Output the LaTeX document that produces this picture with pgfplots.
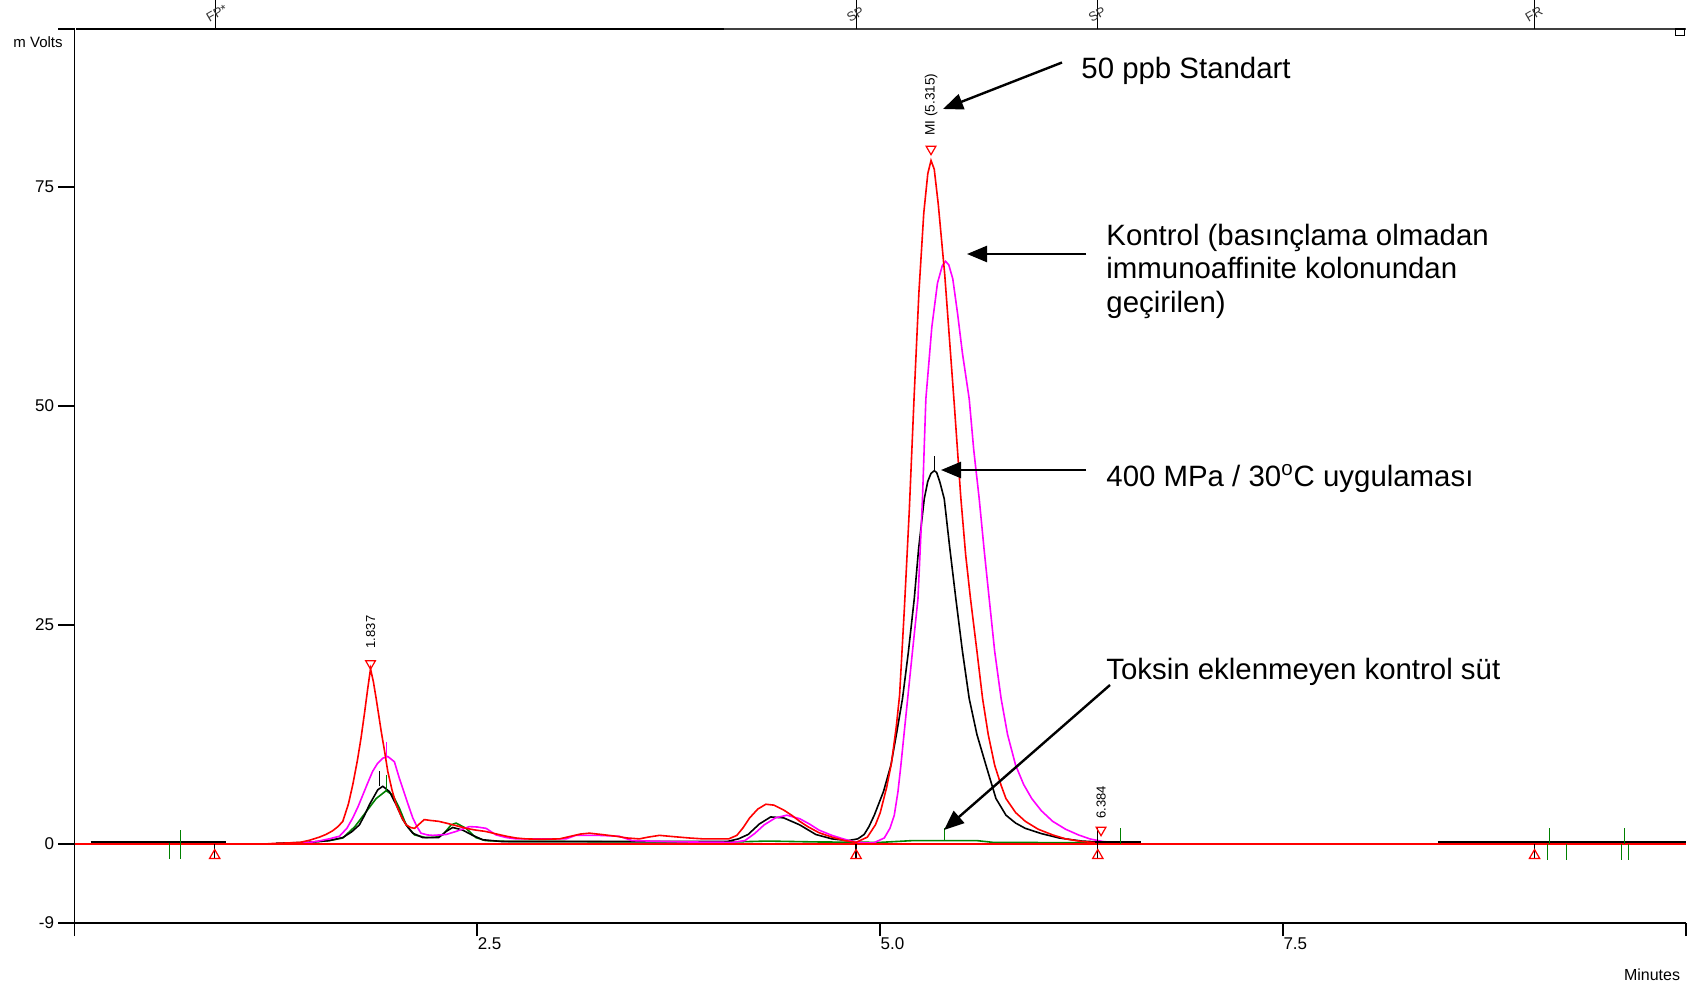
\documentclass[border=0pt]{standalone}
\usepackage{fontspec}
\setmainfont{Liberation Sans}
\usepackage{pgfplots}
\pgfplotsset{compat=1.18}
\usetikzlibrary{arrows.meta}
\definecolor{trgreen}{RGB}{0,128,0}
\definecolor{trmag}{RGB}{255,0,255}
\definecolor{trred}{RGB}{255,0,0}

\begin{document}
\begin{tikzpicture}
\begin{axis}[
    at={(37.25pt,32pt)}, anchor=south west,
    scale only axis, width=805.75pt, height=447pt,
    xmin=0, xmax=10, ymin=-9, ymax=93,
    axis x line*=bottom, axis y line*=left,
    axis line style={line width=0.9pt, -},
    tick align=outside,
    xtick={0,2.5,5,7.5,10}, xticklabels={,2.5,5.0,7.5,},
    ytick={-9,0,25,50,75,93}, yticklabels={-9,0,25,50,75,},
    xtick style={black, line width=0.9pt, /pgfplots/major tick length=6.5pt},
    ytick style={black, line width=0.9pt, /pgfplots/major tick length=8pt},
    ticklabel style={font=\fontsize{8.5}{9}\selectfont},
    xticklabel style={anchor=north west, inner sep=0pt, yshift=-3pt},
    yticklabel style={anchor=east, inner sep=0pt, xshift=-5.8pt},
    clip=false,
]
% Toksin eklenmeyen kontrol sut
\addplot[trgreen, line width=0.8pt, mark=none] coordinates {
(1.30,0.1)(1.45,0.2)(1.58,0.4)(1.665,0.7)(1.74,2.0)(1.81,3.7)(1.872,5.2)(1.934,6.1)(1.975,5.6)
(2.016,4.1)(2.058,2.2)(2.11,1.05)(2.18,0.75)(2.24,0.8)(2.286,1.05)(2.337,2.2)(2.368,2.4)(2.43,1.8)
(2.49,0.75)(2.55,0.4)(2.7,0.3)(3.0,0.3)(3.4,0.25)(4.1,0.25)(4.3,0.35)(4.6,0.25)(5.0,0.2)
(5.2,0.4)(5.6,0.4)(5.7,0.2)(6.4,0.15)
};
% 400 MPa / 30C
\addplot[black, line width=0.8pt, mark=none] coordinates {
(1.25,0.1)(1.45,0.2)(1.58,0.4)(1.665,0.75)(1.72,1.4)(1.768,2.2)(1.80,3.3)(1.83,4.5)(1.882,6.2)
(1.913,6.6)(1.954,6.0)(1.996,4.5)(2.037,2.8)(2.07,1.9)(2.099,1.25)(2.16,0.75)(2.26,0.75)(2.306,1.45)
(2.347,1.9)(2.409,1.6)(2.471,1.0)(2.533,0.5)(2.65,0.3)(3.0,0.3)(3.5,0.3)(4.05,0.3)(4.12,0.6)
(4.18,1.1)(4.25,2.3)(4.32,3.1)(4.4,3.0)(4.5,2.2)(4.6,1.1)(4.7,0.6)(4.8,0.4)(4.86,0.6)(4.9,1.1)
(4.93,2.0)(4.963,3.3)(5.02,6.0)(5.066,9.0)(5.10,12.5)(5.138,16.6)(5.175,22)(5.211,28)(5.238,33.7)
(5.273,39.4)(5.295,41.4)(5.315,42.3)(5.335,42.6)(5.35,42.4)(5.37,41.3)(5.397,39.4)(5.43,34)
(5.469,28)(5.51,22)(5.552,16.6)(5.60,12.5)(5.656,9.0)(5.718,5.2)(5.78,3.3)(5.84,2.4)(5.90,1.8)
(6.0,1.2)(6.11,0.7)(6.25,0.35)(6.4,0.2)
};
% Kontrol
\addplot[trmag, line width=0.8pt, mark=none] coordinates {
(1.30,0.05)(1.41,0.1)(1.50,0.3)(1.58,0.6)(1.644,0.9)(1.69,1.8)(1.727,3.0)(1.76,4.3)(1.789,5.6)
(1.82,7.0)(1.85,8.3)(1.88,9.2)(1.913,9.8)(1.944,10.0)(1.985,9.4)(2.016,7.5)(2.038,6.3)(2.058,5.2)
(2.08,4.0)(2.099,3.0)(2.125,2.0)(2.15,1.25)(2.19,1.05)(2.223,1.0)(2.306,1.1)(2.368,1.45)(2.45,2.0)
(2.50,1.95)(2.554,1.8)(2.616,1.05)(2.68,0.75)(2.74,0.6)(3.05,0.6)(3.11,1.0)(3.25,1.0)(3.38,0.9)
(3.46,0.4)(3.8,0.25)(4.08,0.2)(4.16,0.4)(4.22,1.2)(4.28,2.2)(4.35,3.0)(4.42,3.3)(4.5,2.9)(4.56,2.3)
(4.62,1.6)(4.7,1.0)(4.77,0.6)(4.83,0.3)(4.9,0.15)(4.96,0.15)(5.025,0.7)(5.06,1.8)(5.087,3.3)(5.11,6)
(5.128,9)(5.15,13)(5.17,16.6)(5.2,22)(5.234,28)(5.262,39.4)(5.283,50.8)(5.32,59)(5.355,64)
(5.385,66)(5.405,66.5)(5.425,66.1)(5.45,64.5)(5.48,60.5)(5.51,56)(5.552,50.8)(5.58,45)(5.614,39.4)
(5.645,33.5)(5.676,28)(5.71,22)(5.75,16.6)(5.79,12.5)(5.84,9)(5.89,6.8)(5.94,5.2)(6.00,3.8)(6.07,2.6)
(6.15,1.7)(6.23,1.05)(6.30,0.6)(6.38,0.3)(6.5,0.1)
};
% 50 ppb Standart
\addplot[trred, line width=0.8pt, mark=none] coordinates {
(1.20,0.05)(1.30,0.12)(1.40,0.2)(1.46,0.45)(1.52,0.8)(1.56,1.1)(1.60,1.5)(1.635,2.0)(1.665,2.6)
(1.70,4.6)(1.727,6.8)(1.755,9.5)(1.778,12.1)(1.80,15.0)(1.82,17.8)(1.837,20.0)(1.855,18.5)(1.872,16.6)
(1.888,14.7)(1.903,12.9)(1.925,10.5)(1.944,8.3)(1.97,6.2)(1.996,4.5)(2.03,3.1)(2.058,2.2)(2.085,1.9)
(2.11,1.8)(2.14,2.3)(2.17,2.8)(2.21,2.7)(2.26,2.6)(2.306,2.4)(2.37,2.1)(2.43,1.8)(2.49,1.6)(2.55,1.45)
(2.62,1.15)(2.68,0.9)(2.74,0.7)(2.80,0.6)(2.9,0.55)(3.01,0.6)(3.08,0.9)(3.14,1.15)(3.195,1.25)
(3.27,1.1)(3.36,0.9)(3.43,0.7)(3.505,0.6)(3.56,0.8)(3.63,1.0)(3.72,0.85)(3.815,0.7)(3.9,0.6)(4.06,0.6)
(4.11,1.0)(4.146,1.8)(4.19,3.0)(4.24,4.0)(4.29,4.55)(4.34,4.45)(4.4,3.9)(4.45,3.3)(4.5,2.6)(4.55,2.0)
(4.62,1.3)(4.7,0.8)(4.78,0.4)(4.85,0.2)(4.92,0.8)(4.97,2.2)(5.00,3.6)(5.04,6.5)(5.07,9.3)(5.10,13.5)
(5.12,17)(5.15,27)(5.18,38)(5.21,51)(5.24,63)(5.27,72)(5.295,76.5)(5.315,78)(5.335,77)(5.36,73)
(5.40,65)(5.43,57.5)(5.46,50)(5.50,39.5)(5.53,33)(5.56,28)(5.60,22)(5.635,16.6)(5.67,12.5)(5.71,9)
(5.75,6.7)(5.78,5.2)(5.84,3.6)(5.90,2.6)(5.98,1.7)(6.07,1.05)(6.15,0.6)(6.25,0.3)(6.38,0.1)
};
% baseline segments
\addplot[black, line width=1.3pt, mark=none] coordinates {(0.10,0.25)(0.94,0.25)};
\addplot[black, line width=1.3pt, mark=none] coordinates {(6.33,0.25)(6.62,0.25)};
\addplot[black, line width=1.3pt, mark=none] coordinates {(8.46,0.25)(10,0.25)};
\addplot[trred, line width=0.8pt, mark=none] coordinates {(0,0)(10,0)};
% peak marker spikes
\addplot[trmag, line width=0.6pt, mark=none] coordinates {(1.937,9.8)(1.937,11.7)};
\addplot[black, line width=0.6pt, mark=none] coordinates {(1.892,6.6)(1.892,8.3)};
\addplot[trgreen, line width=0.6pt, mark=none] coordinates {(1.937,6.0)(1.937,7.9)};
\addplot[black, line width=0.6pt, mark=none] coordinates {(5.335,42.6)(5.335,44.3)};
\addplot[trgreen, line width=0.6pt, mark=none] coordinates {(5.40,0.4)(5.40,1.8)};
% green integration ticks
\addplot[trgreen, line width=0.6pt, mark=none] coordinates {(0.59,0.1)(0.59,-1.7)};
\addplot[trgreen, line width=0.6pt, mark=none] coordinates {(0.66,1.6)(0.66,-1.7)};
\addplot[trgreen, line width=0.6pt, mark=none] coordinates {(6.49,1.8)(6.49,0)};
\addplot[trgreen, line width=0.6pt, mark=none] coordinates {(9.14,0)(9.14,-1.8)};
\addplot[trgreen, line width=0.6pt, mark=none] coordinates {(9.155,0)(9.155,1.8)};
\addplot[trgreen, line width=0.6pt, mark=none] coordinates {(9.26,0)(9.26,-1.8)};
\addplot[trgreen, line width=0.6pt, mark=none] coordinates {(9.60,0)(9.60,-1.8)};
\addplot[trgreen, line width=0.6pt, mark=none] coordinates {(9.62,0)(9.62,1.8)};
\addplot[trgreen, line width=0.6pt, mark=none] coordinates {(9.645,0)(9.645,-1.8)};
% baseline start/end markers
\addplot[black, line width=0.6pt, mark=none] coordinates {(0.87,0)(0.87,-1.6)};
\addplot[black, line width=0.6pt, mark=none] coordinates {(4.85,0)(4.85,-1.6)};
\addplot[black, line width=0.6pt, mark=none] coordinates {(6.35,1.8)(6.35,-1.6)};
\addplot[black, line width=0.6pt, mark=none] coordinates {(9.06,0)(9.06,-1.6)};
\addplot[only marks, mark=triangle, mark size=3pt, trred, mark options={line width=0.6pt}]
  coordinates {(0.87,-1.3)(4.85,-1.3)(6.35,-1.3)(9.06,-1.3)};
\addplot[only marks, mark=triangle, mark size=2.8pt, trred, mark options={rotate=180, line width=0.6pt}]
  coordinates {(1.837,20.6)(5.315,79.3)(6.37,1.6)};
% peak labels
\node[rotate=90, anchor=west, inner sep=0pt, font=\fontsize{6.5}{7}\selectfont] at (axis cs:1.837,22.3) {1.837};
\node[rotate=90, anchor=west, inner sep=0pt, font=\fontsize{6.8}{7}\selectfont] at (axis cs:5.315,80.8) {MI (5.315)};
\node[rotate=90, anchor=west, inner sep=0pt, font=\fontsize{6.5}{7}\selectfont] at (axis cs:6.37,2.9) {6.384};
% top border line and markers
\draw[line width=1.4pt] (axis cs:0.01,93) -- (axis cs:4.03,93);
\draw[line width=0.9pt, black!75] (axis cs:4.03,93) -- (axis cs:10,93);
\draw[line width=0.6pt] (axis cs:9.935,92.3) rectangle (axis cs:9.99,93);
\draw[line width=0.5pt] (axis cs:0.875,93) -- ++(0,1pt);
\draw[line width=0.5pt] (axis cs:4.85,93) -- ++(0,1pt);
\draw[line width=0.5pt] (axis cs:6.35,93) -- ++(0,1pt);
\draw[line width=0.5pt] (axis cs:9.06,93) -- ++(0,1pt);
\node[rotate=30, anchor=south west, inner sep=0pt, text=black!80, font=\fontsize{6.5}{7}\selectfont] at ([xshift=-3pt,yshift=3pt]axis cs:0.875,93) {FP*};
\node[rotate=30, anchor=south west, inner sep=0pt, text=black!80, font=\fontsize{6.5}{7}\selectfont] at ([xshift=-3pt,yshift=3pt]axis cs:4.85,93) {SP};
\node[rotate=30, anchor=south west, inner sep=0pt, text=black!80, font=\fontsize{6.5}{7}\selectfont] at ([xshift=-3pt,yshift=3pt]axis cs:6.35,93) {SP};
\node[rotate=30, anchor=south west, inner sep=0pt, text=black!80, font=\fontsize{6.5}{7}\selectfont] at ([xshift=-3pt,yshift=3pt]axis cs:9.06,93) {FR};
\end{axis}
% axis titles
\node[font=\fontsize{7.5}{8}\selectfont] at (19pt,472.5pt) {m Volts};
\node[font=\fontsize{8}{9}\selectfont] at (826pt,6pt) {Minutes};
% annotations
\node[anchor=base west, inner sep=0pt, font=\fontsize{14.7}{16}\selectfont] at (540.5pt,454pt) {50 ppb Standart};
\draw[line width=1.2pt, -{Triangle[length=10pt,width=8pt]}] (531pt,462.25pt) -- (471.5pt,439pt);
\node[anchor=base west, inner sep=0pt, font=\fontsize{14.7}{16}\selectfont] at (553pt,370.6pt) {Kontrol (basınçlama olmadan};
\node[anchor=base west, inner sep=0pt, font=\fontsize{14.7}{16}\selectfont] at (553pt,354pt) {immunoaffinite kolonundan};
\node[anchor=base west, inner sep=0pt, font=\fontsize{14.7}{16}\selectfont] at (553pt,337.2pt) {geçirilen)};
\draw[line width=1.2pt, -{Triangle[length=10pt,width=8pt]}] (543pt,366.5pt) -- (483.5pt,366.5pt);
\node[anchor=base west, inner sep=0pt, font=\fontsize{14.7}{16}\selectfont] at (553pt,250.5pt) {400 MPa / 30\textsuperscript{o}C uygulaması};
\draw[line width=1.2pt, -{Triangle[length=10pt,width=8pt]}] (543pt,258.5pt) -- (470.5pt,258.5pt);
\node[anchor=base west, inner sep=0pt, font=\fontsize{14.7}{16}\selectfont] at (553pt,154pt) {Toksin eklenmeyen kontrol süt};
\draw[line width=1.2pt, -{Triangle[length=10pt,width=8pt]}] (555pt,151pt) -- (472pt,78.5pt);
\pgfresetboundingbox
\path[use as bounding box] (0,0) rectangle (845pt,493.5pt);
\end{tikzpicture}
\end{document}
